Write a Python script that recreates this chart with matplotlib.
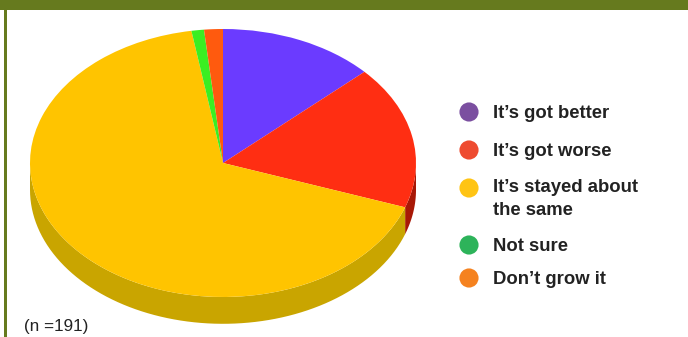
import numpy as np
import matplotlib.pyplot as plt
from matplotlib.patches import Polygon, Rectangle

# Respostas (n = 191)
labels = ["It\u2019s got better", "It\u2019s got worse",
          "It\u2019s stayed about\nthe same", "Not sure", "Don\u2019t grow it"]
counts = [25, 33, 128, 2, 3]

# cores da face superior, da lateral e da legenda
top_colors  = ["#6B3BFF", "#FF2E12", "#FFC400", "#3BEE22", "#FF5A0E"]
side_colors = ["#4A22B0", "#A81806", "#C9A500", "#22A015", "#B8400A"]
leg_colors  = ["#7B4FA0", "#EE4B30", "#FFC414", "#2DB35A", "#F5821F"]

W, H, DPI = 688, 337, 100
DEPTH = 0.2   # espessura da pizza (em unidades do raio vertical)

fig = plt.figure(figsize=(W / DPI, H / DPI), dpi=DPI)
fig.patch.set_facecolor("white")

# ── pizza "3D": elipse achatada + lateral ─────────────────────
cx_px, cy_px, rx_px, ry_px = 223, 163, 193, 134
bot_px, top_px = 7, 312
ax = fig.add_axes([(cx_px - rx_px) / W, bot_px / H, 2 * rx_px / W, (top_px - bot_px) / H])
wedges, _ = ax.pie(counts, colors=top_colors, startangle=90, counterclock=False,
                   wedgeprops=dict(linewidth=0), radius=1.0)
ax.set_aspect("auto")
ax.set_xlim(-1, 1)
yc = H - cy_px
ax.set_ylim((bot_px - yc) / ry_px, (top_px - yc) / ry_px)
ax.axis("off")

# lateral: só a metade da frente (180°..360°) aparece
for w, sc in zip(wedges, side_colors):
    t1, t2 = w.theta1, w.theta2
    for k in (-360, 0, 360):
        lo, hi = max(t1 + k, 180), min(t2 + k, 360)
        if hi <= lo:
            continue
        th = np.radians(np.linspace(lo, hi, 80))
        xs, ys = np.cos(th), np.sin(th)
        pts = np.vstack([np.column_stack([xs, ys]),
                         np.column_stack([xs[::-1], ys[::-1] - DEPTH])])
        ax.add_patch(Polygon(pts, closed=True, facecolor=sc, edgecolor="none", zorder=0))
for w in wedges:
    w.set_zorder(1)

# ── moldura verde ─────────────────────────────────────────────
ov = fig.add_axes([0, 0, 1, 1])
ov.set_xlim(0, W)
ov.set_ylim(H, 0)
ov.axis("off")
ov.set_zorder(5)
ov.add_patch(Rectangle((0, 0), W, 10, facecolor="#667A1E", edgecolor="none"))
ov.add_patch(Rectangle((4, 0), 3, H, facecolor="#667A1E", edgecolor="none"))

# ── legenda ───────────────────────────────────────────────────
row_y = [112, 150, 188, 245, 278]
for lab, col, y in zip(labels, leg_colors, row_y):
    ov.scatter([469], [y], s=190, color=col, edgecolors="none")
    multi = "\n" in lab
    ov.text(493, y - 9 if multi else y + 1.5, lab, fontsize=13.3, fontweight="bold",
            family="Liberation Sans", color="#222222",
            va="top" if multi else "center", linespacing=1.45)

ov.text(24, 326, "(n =191)", fontsize=12.3, family="Liberation Sans",
        color="#222222", va="center")

fig.savefig("out.png", dpi=DPI)
